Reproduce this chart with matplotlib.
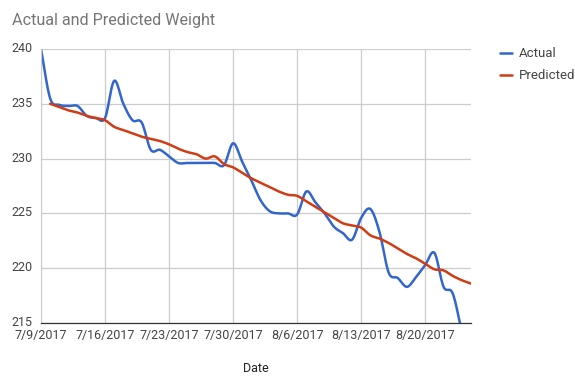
import datetime as dt
import numpy as np
import matplotlib
matplotlib.use("Agg")
import matplotlib.pyplot as plt
import matplotlib.dates as mdates
import matplotlib.transforms as mtransforms

start = dt.date(2017, 7, 9)

actual = [240.0, 235.5, 234.9, 234.8, 234.8, 233.9, 233.7, 233.7, 237.1, 235.0,
          233.5, 233.3, 230.8, 230.8, 230.2, 229.6, 229.6, 229.6, 229.6, 229.6,
          229.4, 231.4, 229.7, 228.0, 226.2, 225.2, 225.0, 225.0, 224.9, 227.0,
          226.0, 225.0, 223.8, 223.2, 222.6, 224.6, 225.4, 223.3, 219.6, 219.1,
          218.3, 219.2, 220.3, 221.4, 218.3, 217.7, 214.2]
predicted = [235.0, 234.7, 234.4, 234.2, 233.9, 233.7, 233.5, 232.9, 232.6, 232.3,
             232.0, 231.8, 231.6, 231.3, 230.9, 230.6, 230.4, 230.0, 230.2, 229.5,
             229.2, 228.7, 228.2, 227.8, 227.4, 227.0, 226.7, 226.6, 226.1, 225.6,
             225.1, 224.6, 224.1, 223.9, 223.7, 223.0, 222.7, 222.3, 221.8, 221.3,
             220.9, 220.4, 219.9, 219.8, 219.3, 218.9, 218.6]
actual_days = list(range(0, 47))
predicted_days = list(range(1, 48))
tick_days = [0, 7, 14, 21, 28, 35, 42]


def smooth(xs, ys, n=12):
    # catmull-rom curve through the points, like the "function" curve type
    x = np.asarray(xs, float)
    y = np.asarray(ys, float)
    px = np.concatenate([[2 * x[0] - x[1]], x, [2 * x[-1] - x[-2]]])
    py = np.concatenate([[2 * y[0] - y[1]], y, [2 * y[-1] - y[-2]]])
    t = np.linspace(0, 1, n, endpoint=False)
    ox, oy = [], []
    for i in range(1, len(px) - 2):
        for p, out in ((px, ox), (py, oy)):
            p0, p1, p2, p3 = p[i - 1], p[i], p[i + 1], p[i + 2]
            out.extend(0.5 * (2 * p1 + (-p0 + p2) * t
                              + (2 * p0 - 5 * p1 + 4 * p2 - p3) * t ** 2
                              + (-p0 + 3 * p1 - 3 * p2 + p3) * t ** 3))
    ox.append(x[-1])
    oy.append(y[-1])
    return np.array(ox), np.array(oy)


def to_dates(days):
    return [mdates.date2num(start) + d for d in days]


plt.rcParams["font.family"] = ["Roboto", "DejaVu Sans"]

fig = plt.figure(figsize=(5.75, 3.76), dpi=100)
ax = fig.add_axes([41 / 575, 53 / 376, 430 / 575, 274 / 376])

ax_x, ax_y = smooth(actual_days, actual)
pr_x, pr_y = smooth(predicted_days, predicted)
ax.plot(to_dates(ax_x), ax_y, color="#3366cc", lw=1.8, label="Actual",
        solid_capstyle="round")
ax.plot(to_dates(pr_x), pr_y, color="#d03c14", lw=1.8, label="Predicted",
        solid_capstyle="round")

ax.set_ylim(215, 240)
ax.set_xlim(to_dates([0])[0], to_dates([47])[0])
ax.set_yticks([215, 220, 225, 230, 235, 240])
ax.set_xticks(to_dates(tick_days))
ax.set_xticklabels([f"{(start + dt.timedelta(days=d)).month}/"
                    f"{(start + dt.timedelta(days=d)).day}/2017" for d in tick_days])
ax.grid(True, color="#cccccc", lw=0.9)
ax.set_axisbelow(True)
for s in ["top", "right"]:
    ax.spines[s].set_visible(False)
ax.spines["left"].set_color("#cccccc")
ax.spines["bottom"].set_color("#333333")
ax.spines["bottom"].set_linewidth(0.9)
ax.tick_params(length=0, labelsize=9, colors="#444444")
ax.tick_params(axis="x", pad=4.5)
ax.tick_params(axis="y", pad=6)
lift = mtransforms.ScaledTranslation(0, 2 / 100, fig.dpi_scale_trans)
for lbl in ax.get_yticklabels():
    lbl.set_verticalalignment("center_baseline")
    lbl.set_transform(lbl.get_transform() + lift)
ax.set_xlabel("Date", fontsize=9, color="#222222", labelpad=14)

fig.text(12 / 575, 1 - 21 / 376, "Actual and Predicted Weight", fontsize=11.6,
         color="#757575", va="center")

ax.legend(loc="upper left", bbox_to_anchor=(1.04, 1.05), frameon=False,
          fontsize=9.5, handlelength=0.9, handletextpad=0.5, labelspacing=0.7,
          labelcolor="#444444")

fig.savefig("out.png", dpi=100)
